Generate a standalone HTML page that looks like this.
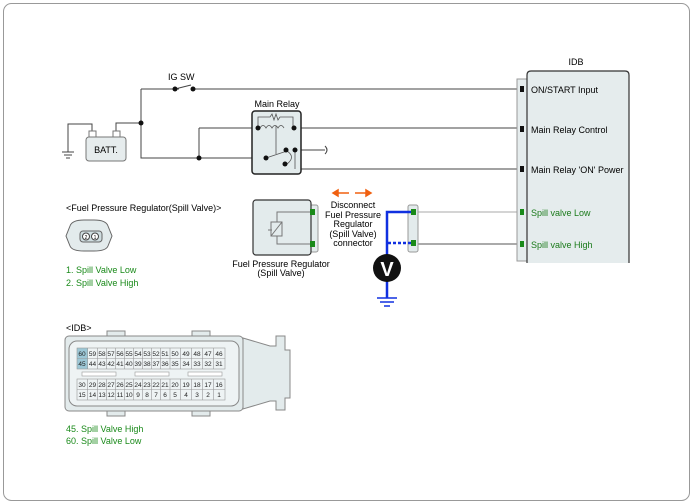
<!DOCTYPE html><html><head><style>body{margin:0;background:#fff}svg{display:block;font-family:"Liberation Sans",sans-serif}</style></head><body>
<svg width="693" height="504" viewBox="0 0 693 504">
<rect x="3.5" y="3.5" width="686" height="497" rx="8" fill="#fff" stroke="#999"/>
<g stroke="#444" stroke-width="1" fill="none">
<path d="M141 89H522M141 89V158H266M141 123H116V132M92 132V124H68V152M199 128V158M199 128H260M291 128H522M295 150H325M295 150V169H522"/>
<path d="M325 146q4 4 0 8"/>
</g>
<line x1="418" y1="212" x2="522" y2="212" stroke="#aaa"/>
<line x1="418" y1="244" x2="522" y2="244" stroke="#555"/>
<g stroke="#444" fill="none"><path d="M62 152h12M64 155h8M66 158h4"/></g>
<rect x="179" y="84" width="16" height="10" fill="#fff"/>
<line x1="175" y1="89" x2="191" y2="85" stroke="#444"/>
<g fill="#111"><circle cx="175" cy="89" r="2.5"/><circle cx="193" cy="89" r="2.5"/><circle cx="141" cy="123" r="2.5"/><circle cx="199" cy="158" r="2.5"/></g>
<text x="168" y="80" font-size="9">IG SW</text>
<rect x="86" y="137" width="40" height="24" rx="3" fill="#e6eced" stroke="#777"/>
<rect x="89" y="131" width="7" height="6" fill="#fff" stroke="#777"/><rect x="113" y="131" width="7" height="6" fill="#fff" stroke="#777"/>
<text x="106" y="153" font-size="9" text-anchor="middle">BATT.</text>
<text x="277" y="107" font-size="9" text-anchor="middle">Main Relay</text>
<rect x="252" y="111" width="49" height="63" rx="3" fill="#e3ebec" stroke="#222" stroke-width="1.5"/>
<g stroke="#555" fill="none" stroke-width="0.8"><path d="M258 128V117h12l2-3 2 6 2-6 2 6 2-3h13V128M260 128q3-5 6 0q3-5 6 0q3-5 6 0q3-5 6 0M276 126V154M266 158L287 151M287 151q9 6 0 13M295 150V169"/></g>
<g fill="#111"><circle cx="258" cy="128" r="2.5"/><circle cx="294" cy="128" r="2.5"/><circle cx="286" cy="150" r="2.5"/><circle cx="295" cy="150" r="2.5"/><circle cx="266" cy="158" r="2.5"/><circle cx="285" cy="164" r="2.5"/></g>
<text x="576" y="65" font-size="9" text-anchor="middle">IDB</text>
<path d="M527 263V261H517V79h10" fill="#e5eced" stroke="#999"/>
<path d="M527 263V75q0-4 4-4h94q4 0 4 4V263" fill="#e5eced" stroke="#333" stroke-width="1.2"/>
<g fill="#111"><rect x="520" y="86" width="4" height="6"/><rect x="520" y="126" width="4" height="6"/><rect x="520" y="166" width="4" height="6"/></g>
<g fill="#1a8a1a"><rect x="520" y="209" width="4" height="6"/><rect x="520" y="241" width="4" height="6"/></g>
<g font-size="9"><text x="531" y="93">ON/START Input</text><text x="531" y="133">Main Relay Control</text><text x="531" y="173">Main Relay 'ON' Power</text>
<text x="531" y="216" fill="#1a7a1a">Spill valve Low</text><text x="531" y="248" fill="#1a7a1a">Spill valve High</text></g>
<text x="66" y="211" font-size="9">&lt;Fuel Pressure Regulator(Spill Valve)&gt;</text>
<path d="M66 236l4-10q2-6 14-6h10q12 0 14 6l4 10l-4 10q-2 5-14 5h-10q-12 0-14-5z" fill="#e3ebec" stroke="#666"/>
<rect x="80" y="231" width="22" height="11" rx="3" fill="#cfdde0" stroke="#666"/>
<circle cx="86" cy="236.5" r="3.5" fill="#fff" stroke="#444"/><circle cx="95" cy="236.5" r="3.5" fill="#fff" stroke="#444"/>
<text x="86" y="239" font-size="5" text-anchor="middle">2</text><text x="95" y="239" font-size="5" text-anchor="middle">1</text>
<g font-size="9" fill="#1a8a1a"><text x="66" y="273">1. Spill Valve Low</text><text x="66" y="286">2. Spill Valve High</text></g>
<rect x="310" y="205" width="8" height="47" rx="2" fill="#e3ebec" stroke="#999"/>
<rect x="253" y="200" width="58" height="55" rx="3" fill="#e3ebec" stroke="#333" stroke-width="1.2"/>
<g stroke="#777" fill="none"><path d="M311 212H277V222M311 244H277V236M271 222h11v14h-11zM271 236L282 222M272 230h-4"/></g>
<g fill="#1a8a1a"><rect x="310" y="209" width="5" height="6"/><rect x="310" y="241" width="5" height="6"/></g>
<g font-size="9" text-anchor="middle"><text x="281" y="267">Fuel Pressure Regulator</text><text x="281" y="276">(Spill Valve)</text>
<text x="353" y="208">Disconnect</text><text x="353" y="218">Fuel Pressure</text><text x="353" y="227">Regulator</text><text x="353" y="237">(Spill Valve)</text><text x="353" y="246">connector</text></g>
<g fill="#f06010" stroke="#f06010" stroke-width="1.5"><line x1="337" y1="193" x2="349" y2="193"/><path d="M333 193l5-3v6z"/><line x1="355" y1="193" x2="367" y2="193"/><path d="M371 193l-5-3v6z"/></g>
<rect x="408" y="205" width="10" height="47" rx="2" fill="#e3ebec" stroke="#999"/>
<g fill="#1a8a1a"><rect x="411" y="209" width="5" height="6"/><rect x="411" y="240" width="5" height="6"/></g>
<path d="M411 212H387V298" stroke="#1030e0" stroke-width="2.5" fill="none"/>
<path d="M388 243H411" stroke="#1030e0" stroke-width="2.5" stroke-dasharray="3 2"/>
<circle cx="387" cy="268" r="14" fill="#111"/>
<text x="387" y="276" font-size="20" font-weight="bold" fill="#fff" text-anchor="middle">V</text>
<g stroke="#1030e0" stroke-width="1.5"><path d="M377 298h20M380 302h14M384 306h6"/></g>
<text x="66" y="331" font-size="9">&lt;IDB&gt;</text>
<g stroke="#888" fill="#e3ebec">
<path d="M243 338L270 346H276V336H285V350H290V398H285V410H276V401H270L243 409Z"/>
<rect x="107" y="331" width="18" height="8"/><rect x="192" y="331" width="18" height="8"/><rect x="107" y="408" width="18" height="8"/><rect x="192" y="408" width="18" height="8"/>
<rect x="65" y="336" width="178" height="75" rx="4"/>
<rect x="69" y="341" width="170" height="65" rx="8" fill="#eef3f4"/>
</g>
<rect x="77" y="348" width="11" height="21" fill="#9cc7d6"/>
<g fill="none" stroke="#999" stroke-width="0.6">
<rect x="77" y="348" width="148" height="21"/><line x1="77" y1="358.5" x2="225" y2="358.5"/>
<rect x="77" y="379" width="148" height="21"/><line x1="77" y1="389.5" x2="225" y2="389.5"/>
<path d="M87.5 348v21M97.5 348v21M106.5 348v21M115.5 348v21M124.5 348v21M133.5 348v21M142.5 348v21M151.5 348v21M160.5 348v21M170 348v21M180.5 348v21M191.5 348v21M202.5 348v21M213.5 348v21"/>
<path d="M87.5 379v21M97.5 379v21M106.5 379v21M115.5 379v21M124.5 379v21M133.5 379v21M142.5 379v21M151.5 379v21M160.5 379v21M170 379v21M180.5 379v21M191.5 379v21M202.5 379v21M213.5 379v21"/>
</g>
<g font-size="6.5" text-anchor="middle" fill="#222">
<text x="82" y="356">60</text><text x="92.5" y="356">59</text><text x="102" y="356">58</text><text x="111" y="356">57</text><text x="120" y="356">56</text><text x="129" y="356">55</text><text x="138" y="356">54</text><text x="147" y="356">53</text><text x="156" y="356">52</text><text x="165" y="356">51</text><text x="175" y="356">50</text><text x="186" y="356">49</text><text x="197" y="356">48</text><text x="208" y="356">47</text><text x="219" y="356">46</text>
<text x="82" y="366">45</text><text x="92.5" y="366">44</text><text x="102" y="366">43</text><text x="111" y="366">42</text><text x="120" y="366">41</text><text x="129" y="366">40</text><text x="138" y="366">39</text><text x="147" y="366">38</text><text x="156" y="366">37</text><text x="165" y="366">36</text><text x="175" y="366">35</text><text x="186" y="366">34</text><text x="197" y="366">33</text><text x="208" y="366">32</text><text x="219" y="366">31</text>
<text x="82" y="387">30</text><text x="92.5" y="387">29</text><text x="102" y="387">28</text><text x="111" y="387">27</text><text x="120" y="387">26</text><text x="129" y="387">25</text><text x="138" y="387">24</text><text x="147" y="387">23</text><text x="156" y="387">22</text><text x="165" y="387">21</text><text x="175" y="387">20</text><text x="186" y="387">19</text><text x="197" y="387">18</text><text x="208" y="387">17</text><text x="219" y="387">16</text>
<text x="82" y="397">15</text><text x="92.5" y="397">14</text><text x="102" y="397">13</text><text x="111" y="397">12</text><text x="120" y="397">11</text><text x="129" y="397">10</text><text x="138" y="397">9</text><text x="147" y="397">8</text><text x="156" y="397">7</text><text x="165" y="397">6</text><text x="175" y="397">5</text><text x="186" y="397">4</text><text x="197" y="397">3</text><text x="208" y="397">2</text><text x="219" y="397">1</text>
</g>
<g fill="#fff" stroke="#999" stroke-width="0.6"><rect x="82" y="372" width="34" height="4"/><rect x="135" y="372" width="34" height="4"/><rect x="188" y="372" width="34" height="4"/></g>
<g font-size="9" fill="#1a8a1a"><text x="66" y="432">45. Spill Valve High</text><text x="66" y="444">60. Spill Valve Low</text></g>
</svg></body></html>
